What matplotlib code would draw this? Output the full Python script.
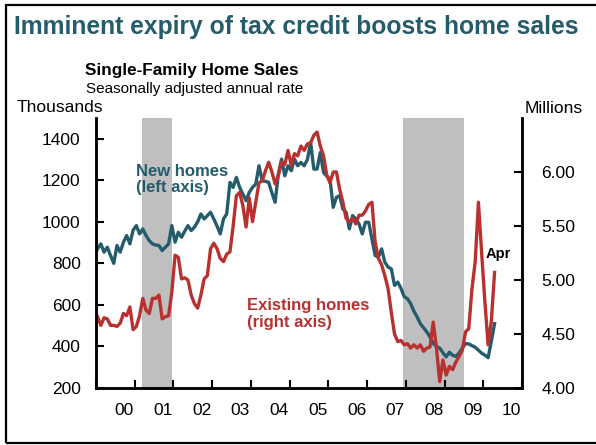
import numpy as np
import matplotlib
matplotlib.use('Agg')
import matplotlib.pyplot as plt
from matplotlib.patches import Rectangle
from matplotlib.ticker import FormatStrFormatter

plt.rcParams['font.family'] = ['Liberation Sans', 'DejaVu Sans']

# Monthly data, Jan 2000 - Apr 2010
start_year = 2000
new_homes = [  # thousands, SAAR
    870, 894, 854, 878, 838, 800, 886, 854, 902, 934, 894, 960,
    982, 942, 966, 934, 910, 894, 888, 886, 862, 878, 894, 982,
    902, 950, 926, 955, 982, 958, 975, 1000, 1038, 1014, 1030, 1046,
    1014, 980, 942, 1014, 1038, 1190, 1166, 1214, 1166, 1134, 1102, 1142,
    1166, 1182, 1270, 1198, 1195, 1190, 1140, 1094, 1230, 1302, 1222, 1270,
    1246, 1302, 1270, 1286, 1270, 1300, 1382, 1254, 1254, 1334, 1238, 1220,
    1206, 1070, 1118, 1126, 1062, 1046, 966, 1030, 1014, 990, 942, 998,
    998, 918, 838, 830, 870, 806, 782, 774, 694, 710, 680, 640,
    630, 606, 570, 542, 510, 490, 470, 446, 414, 400, 392, 370,
    350, 372, 358, 352, 368, 392, 414, 412, 404, 396, 382, 368,
    358, 346, 425, 510,
]
existing_homes = [  # millions, SAAR
    4.66, 4.58, 4.65, 4.64, 4.58, 4.58, 4.57, 4.60, 4.69, 4.67, 4.75, 4.54,
    4.57, 4.67, 4.83, 4.72, 4.69, 4.83, 4.83, 4.86, 4.64, 4.66, 4.67, 4.89,
    5.23, 5.21, 5.01, 5.02, 5.00, 4.86, 4.78, 4.74, 4.86, 5.01, 5.04, 5.29,
    5.34, 5.29, 5.20, 5.17, 5.24, 5.26, 5.50, 5.78, 5.81, 5.69, 5.49, 5.76,
    5.54, 5.72, 5.90, 5.92, 6.01, 6.09, 6.00, 5.89, 5.97, 6.09, 6.07, 6.20,
    6.06, 6.17, 6.15, 6.24, 6.20, 6.26, 6.27, 6.34, 6.37, 6.24, 6.15, 5.97,
    5.90, 6.00, 6.00, 5.84, 5.72, 5.57, 5.54, 5.57, 5.52, 5.60, 5.60, 5.64,
    5.70, 5.72, 5.35, 5.20, 5.14, 5.04, 4.92, 4.70, 4.50, 4.43, 4.44, 4.40,
    4.41, 4.37, 4.40, 4.37, 4.40, 4.34, 4.37, 4.38, 4.61, 4.37, 4.06, 4.26,
    4.12, 4.20, 4.17, 4.24, 4.29, 4.35, 4.52, 4.55, 4.92, 5.17, 5.72, 5.25,
    4.80, 4.40, 4.62, 5.07,
]
recessions = [(2001.19, 2001.97), (2007.92, 2009.49)]
years = list(range(2000, 2011))
year_labels = ['00', '01', '02', '03', '04', '05', '06', '07', '08', '09', '10']
left_ticks = [200, 400, 600, 800, 1000, 1200, 1400]
right_ticks = [4.0, 4.5, 5.0, 5.5, 6.0]

TEAL = '#255c6c'
RED = '#b8312f'
GRAY = '#bfbfbf'

# mid-month positions in decimal years
t = start_year + (np.arange(len(new_homes)) + 0.5) / 12

fig = plt.figure(figsize=(5.96, 4.45), dpi=100)
ax = fig.add_axes([96 / 596, 57 / 445, 426 / 596, 270 / 445])
ax2 = ax.twinx()

for a, b in recessions:
    ax.axvspan(a, b, color=GRAY, lw=0, zorder=0)

ax.plot(t, new_homes, color=TEAL, lw=2.4, zorder=2)
ax2.plot(t, existing_homes, color=RED, lw=2.4, zorder=2)

ax.set_xlim(2000, 2011)
ax.set_ylim(200, 1500)
ax2.set_ylim(4.0, 6.5)

ax.set_yticks(left_ticks)
ax2.set_yticks(right_ticks)
ax2.yaxis.set_major_formatter(FormatStrFormatter('%.2f'))

ax.set_xticks(range(2000, 2012))
ax.set_xticklabels([])
ax.set_xticks([y + 0.73 for y in years], minor=True)
ax.set_xticklabels(year_labels, minor=True)

ax.tick_params(axis='x', which='major', direction='in', length=6, width=1.5)
ax.tick_params(axis='x', which='minor', length=0, pad=11, labelsize=12.5)
ax.tick_params(axis='y', direction='in', length=6, width=1.5, pad=11, labelsize=12.5)
ax2.tick_params(axis='y', direction='in', length=6, width=1.5, pad=14, labelsize=12.5)

for s in ['left', 'bottom', 'right']:
    ax.spines[s].set_linewidth(1.8)
    ax2.spines[s].set_linewidth(1.8)
ax.spines['top'].set_visible(False)
ax2.spines['top'].set_visible(False)

# annotations
ax.text(2001.04, 1204, 'New homes\n(left axis)', color=TEAL, fontsize=12,
        fontweight='bold', va='center', ha='left', linespacing=1.1)
ax.text(2003.9, 556, 'Existing homes\n(right axis)', color=RED, fontsize=12,
        fontweight='bold', va='center', ha='left', linespacing=1.1)
ax.text(2010.06, 845, 'Apr', color='black', fontsize=10.5,
        fontweight='bold', va='center', ha='left')

# titles and axis units
fig.text(14 / 596, 1 - 34 / 445, 'Imminent expiry of tax credit boosts home sales',
         fontsize=17.7, fontweight='bold', color=TEAL, va='baseline')
fig.text(85 / 596, 1 - 75 / 445, 'Single-Family Home Sales',
         fontsize=12.3, fontweight='bold', va='baseline')
fig.text(86 / 596, 1 - 93 / 445, 'Seasonally adjusted annual rate',
         fontsize=11, va='baseline')
fig.text(17 / 596, 1 - 112 / 445, 'Thousands', fontsize=12.5, va='baseline')
fig.text(525 / 596, 1 - 113 / 445, 'Millions', fontsize=12.5, va='baseline')

# frame around the whole picture
fig.patches.append(Rectangle((6 / 596, 2 / 445), 600 / 596, 438 / 445,
                             transform=fig.transFigure, fill=False,
                             lw=1.6, ec='black'))

fig.savefig('out.png', dpi=100)
